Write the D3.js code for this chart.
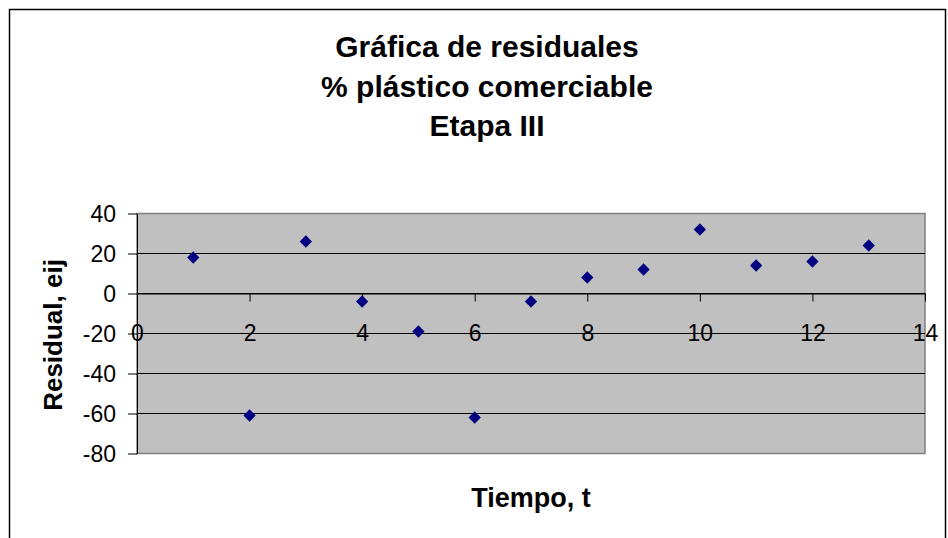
<!DOCTYPE html>
<html><head><meta charset="utf-8">
<script src="https://cdn.jsdelivr.net/npm/d3@7"></script>
<style>
html,body{margin:0;padding:0;background:#fff;}
svg{display:block;font-family:"Liberation Sans",Arial,sans-serif;}
</style></head>
<body>
<svg id="chart" width="948" height="538"></svg>
<script>
const titleLines = ["Gráfica de residuales", "% plástico comerciable", "Etapa III"];
const xTitle = "Tiempo, t";
const yTitle = "Residual, eij";
const tiempo = [1,2,3,4,5,6,7,8,9,10,11,12,13];
const residual = [18,-61,26,-4,-19,-62,-4,8,12,32,14,16,24];
const xTicks = [0,2,4,6,8,10,12,14];
const yTicks = [-80,-60,-40,-20,0,20,40];

const FONT = "'Liberation Sans',Arial,sans-serif";
const svg = d3.select("#chart");
// outer frame
svg.append("rect").attr("x",9.5).attr("y",9.5).attr("width",936).attr("height",600)
  .attr("fill","#fff").attr("stroke","#000").attr("stroke-width",1.5);

const L = 137, R = 925, T = 213.5, B = 453.5;
const x = d3.scaleLinear().domain([0,14]).range([L,R]);
const y = d3.scaleLinear().domain([-80,40]).range([B,T]);

// plot area
svg.append("rect").attr("x",L).attr("y",T).attr("width",R-L).attr("height",B-T)
  .attr("fill","#c0c0c0").attr("stroke","#808080").attr("stroke-width",1.5);

// gridlines
svg.append("g").selectAll("line").data(yTicks.filter(d=>d!==-80 && d!==40)).join("line")
  .attr("x1",L).attr("x2",R).attr("y1",d=>y(d)).attr("y2",d=>y(d))
  .attr("stroke","#000").attr("stroke-width",1);

// y axis
const yAxis = d3.axisLeft(y).tickValues(yTicks).tickSize(9).tickSizeOuter(0).tickFormat(d=>String(d));
const gy = svg.append("g").attr("transform",`translate(${L},0)`).call(yAxis);
gy.attr("font-size",null).attr("font-family",null);
gy.select(".domain").attr("stroke","#000");
gy.selectAll(".tick line").attr("stroke","#000");
gy.selectAll(".tick text").style("font-size","23px").attr("fill","#000")
  .style("font-family",FONT).attr("x",-21).attr("dy","0.35em");

// x axis at y=0
const xAxis = d3.axisBottom(x).tickValues(xTicks).tickSize(8).tickSizeOuter(0).tickFormat(d=>String(d));
const gx = svg.append("g").attr("transform",`translate(0,${y(0)})`).call(xAxis);
gx.attr("font-size",null).attr("font-family",null);
gx.select(".domain").attr("stroke","#000");
gx.selectAll(".tick line").attr("stroke","#000");
gx.selectAll(".tick text").style("font-size","23px").attr("fill","#000")
  .style("font-family",FONT).attr("y",47).attr("dy","0");

// points
svg.append("g").selectAll("path").data(tiempo.map((t,i)=>[t,residual[i]])).join("path")
  .attr("d", d3.symbol().type(d3.symbolDiamond2).size(96))
  .attr("transform",d=>`translate(${x(d[0])},${y(d[1])})`)
  .attr("fill","#000080");

// title
svg.append("g").selectAll("text").data(titleLines).join("text")
  .attr("x",487).attr("y",(d,i)=>57+i*39.5)
  .attr("text-anchor","middle").style("font-size","30px").attr("font-weight","bold").attr("fill","#000")
  .text(d=>d);

svg.append("text").attr("x",531).attr("y",507).attr("text-anchor","middle")
  .style("font-size","27px").attr("font-weight","bold").text(xTitle);

svg.append("text").attr("transform",`translate(62,335) rotate(-90)`).attr("text-anchor","middle")
  .style("font-size","26px").attr("font-weight","bold").text(yTitle);
</script>
</body></html>
